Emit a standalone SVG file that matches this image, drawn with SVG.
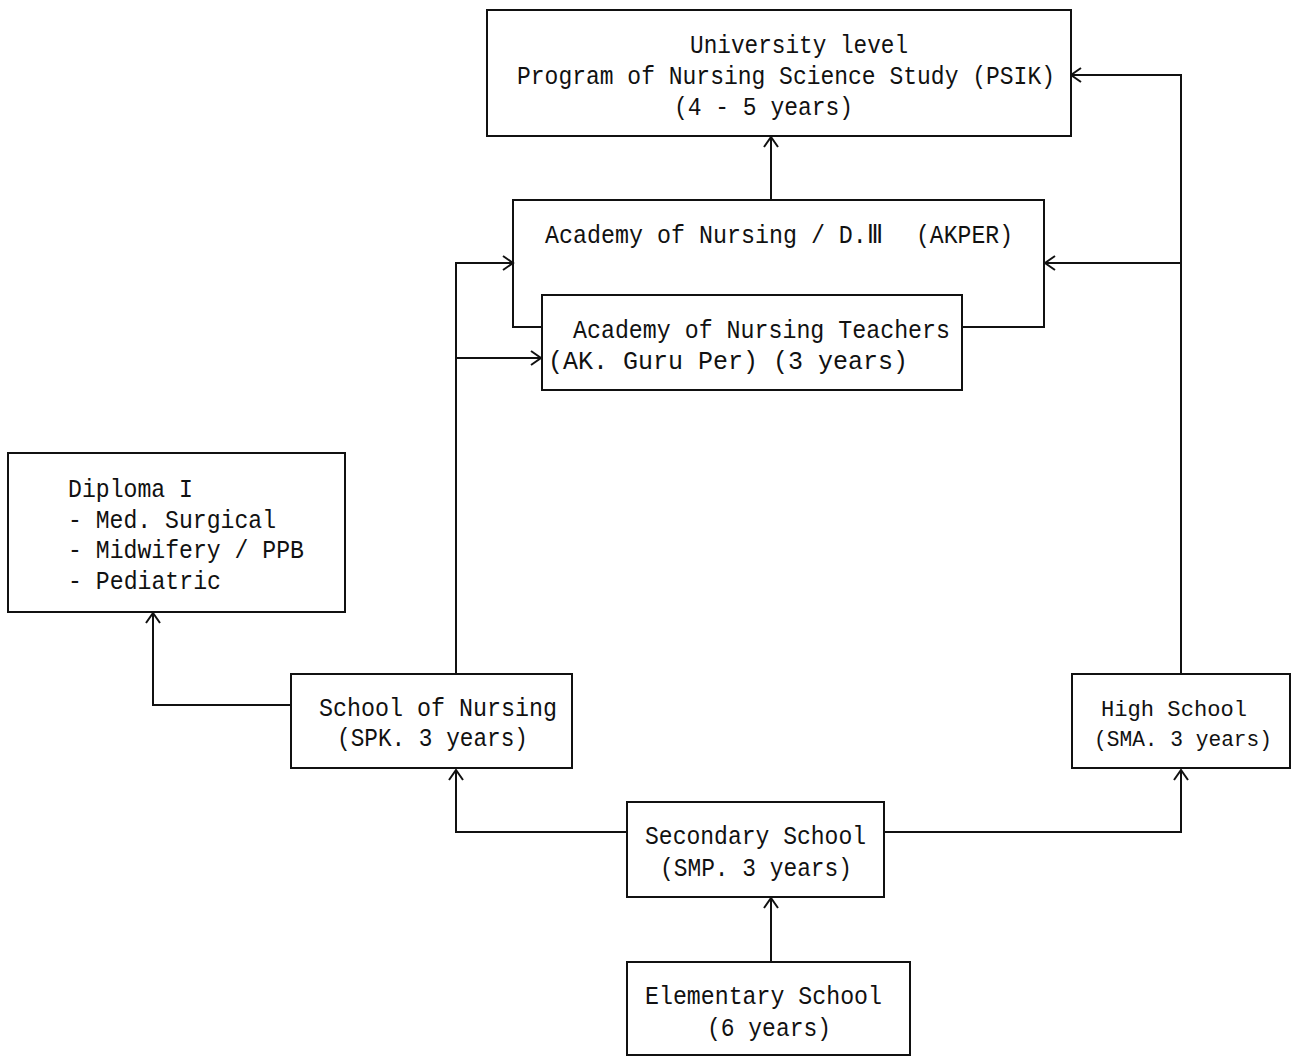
<svg xmlns="http://www.w3.org/2000/svg" width="1292" height="1057" viewBox="0 0 1292 1057">
<defs>
<style>
.box{fill:#fff;stroke:#111;stroke-width:2}
.ln{fill:none;stroke:#111;stroke-width:2}
.t{font-family:"Liberation Mono","DejaVu Sans Mono",monospace;font-size:26px;fill:#111}
.hs{font-size:22px}
</style>
<marker id="ah" markerUnits="userSpaceOnUse" markerWidth="14" markerHeight="16" viewBox="0 0 14 16" refX="12" refY="8" orient="auto">
<path d="M2,1 L12,8 L2,15" fill="none" stroke="#111" stroke-width="2"/>
</marker>
</defs>
<rect width="1292" height="1057" fill="#fff"/>
<g id="connectors">
<path class="ln" d="M771,200 V137" marker-end="url(#ah)"/>
<path class="ln" d="M1181,673 V75 H1071" marker-end="url(#ah)"/>
<path class="ln" d="M1181,263 H1045" marker-end="url(#ah)"/>
<path class="ln" d="M456,673 V263 H513" marker-end="url(#ah)"/>
<path class="ln" d="M456,358 H541" marker-end="url(#ah)"/>
<path class="ln" d="M291,705 H153 V613" marker-end="url(#ah)"/>
<path class="ln" d="M627,832 H456 V770" marker-end="url(#ah)"/>
<path class="ln" d="M884,832 H1181 V770" marker-end="url(#ah)"/>
<path class="ln" d="M771,961 V898" marker-end="url(#ah)"/>
</g>
<g id="university">
<rect class="box" x="487" y="10" width="584" height="126"/>
<text class="t" x="690" y="53" textLength="218" lengthAdjust="spacingAndGlyphs">University level</text>
<text class="t" x="517" y="84" textLength="538" lengthAdjust="spacingAndGlyphs">Program of Nursing Science Study (PSIK)</text>
<text class="t" x="674" y="115" textLength="179" lengthAdjust="spacingAndGlyphs">(4 - 5 years)</text>
</g>
<g id="akper">
<path class="ln" d="M541,327 H513 V200 H1044 V327 H962"/>
<text class="t" x="545" y="243" textLength="338" lengthAdjust="spacingAndGlyphs">Academy of Nursing / D.Ⅲ</text>
<text class="t" x="916" y="243" textLength="97" lengthAdjust="spacingAndGlyphs">(AKPER)</text>
</g>
<g id="akguru">
<rect class="box" x="542" y="295" width="420" height="95"/>
<text class="t" x="573" y="338" textLength="377" lengthAdjust="spacingAndGlyphs">Academy of Nursing Teachers</text>
<text class="t" x="548" y="369" textLength="360" lengthAdjust="spacingAndGlyphs">(AK. Guru Per) (3 years)</text>
</g>
<g id="diploma">
<rect class="box" x="8" y="453" width="337" height="159"/>
<text class="t" x="68" y="497" textLength="125" lengthAdjust="spacingAndGlyphs">Diploma I</text>
<text class="t" x="68" y="528" textLength="208" lengthAdjust="spacingAndGlyphs">- Med. Surgical</text>
<text class="t" x="68" y="558" textLength="236" lengthAdjust="spacingAndGlyphs">- Midwifery / PPB</text>
<text class="t" x="68" y="589" textLength="153" lengthAdjust="spacingAndGlyphs">- Pediatric</text>
</g>
<g id="school-nursing">
<rect class="box" x="291" y="674" width="281" height="94"/>
<text class="t" x="319" y="716" textLength="238" lengthAdjust="spacingAndGlyphs">School of Nursing</text>
<text class="t" x="337" y="746" textLength="191" lengthAdjust="spacingAndGlyphs">(SPK. 3 years)</text>
</g>
<g id="high-school">
<rect class="box" x="1072" y="674" width="218" height="94"/>
<text class="t hs" x="1101" y="716" textLength="146" lengthAdjust="spacingAndGlyphs">High School</text>
<text class="t hs" x="1094" y="746" textLength="178" lengthAdjust="spacingAndGlyphs">(SMA. 3 years)</text>
</g>
<g id="secondary">
<rect class="box" x="627" y="802" width="257" height="95"/>
<text class="t" x="645" y="844" textLength="221" lengthAdjust="spacingAndGlyphs">Secondary School</text>
<text class="t" x="660" y="876" textLength="192" lengthAdjust="spacingAndGlyphs">(SMP. 3 years)</text>
</g>
<g id="elementary">
<rect class="box" x="627" y="962" width="283" height="93"/>
<text class="t" x="645" y="1004" textLength="237" lengthAdjust="spacingAndGlyphs">Elementary School</text>
<text class="t" x="707" y="1036" textLength="124" lengthAdjust="spacingAndGlyphs">(6 years)</text>
</g>
</svg>
